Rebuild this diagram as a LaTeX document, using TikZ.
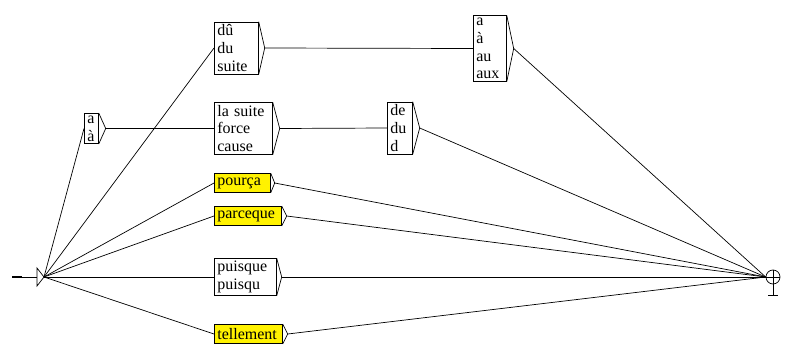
\documentclass[tikz,border=0pt]{standalone}
\usepackage{fontspec}
\setmainfont{Liberation Serif}

\begin{document}
\begin{tikzpicture}[x=1pt, y=-1pt, line width=0.7pt,
    box/.style={draw, anchor=west, align=left, inner xsep=3pt, inner ysep=2.5pt, font=\fontsize{16}{17.8}\selectfont},
    sub/.style={box, fill=yellow, minimum height=19pt}]
    \useasboundingbox (0,0) rectangle (796,356);
    % initial and final states
    \coordinate (start) at (12,277);
    \coordinate (init) at (44,277);
    \draw[line width=1.6pt] (start) -- ++(10,0);
    \draw (start) -- (37,277);
    \draw (37,268) -- (init) -- (37,286) -- cycle;
    \node[draw, circle, minimum size=14pt, inner sep=0pt] (final) at (773,277) {};
    \draw (final.north) -- (final.south) (final.west) -- (final.east);
    \draw (final.south) -- ++(0,11) ++(-5,0) -- ++(10,0);
    % boxes
    \node[box, text width=38pt] (du) at (214,48) {dû\\du\\suite};
    \node[box, text width=27pt] (aaux) at (473,48.5) {a\\à\\au\\aux};
    \node[box, text width=8pt] (aa) at (84,128.5) {a\\à};
    \node[box, text width=52pt] (lasuite) at (214,128.5) {la suite\\force\\cause};
    \node[box, text width=19pt] (de) at (387,128) {de\\du\\d};
    \node[sub, text width=50pt] (pourca) at (214,183) {pourça};
    \node[sub, text width=61pt] (parceque) at (214,216) {parceque};
    \node[box, text width=56pt] (puisque) at (214,277) {puisque\\puisqu};
    \node[sub, text width=62pt] (tellement) at (214,334) {tellement};
    % output triangles
    \foreach \n/\d in {du/6, aaux/7, aa/7, lasuite/7, de/7, pourca/4, parceque/5, puisque/5, tellement/5} {
        \coordinate (\n-out) at ([xshift=\d pt]\n.east);
        \draw (\n.north east) -- (\n-out) -- (\n.south east);
    }
    % transitions
    \foreach \n in {aa, du, pourca, parceque, puisque, tellement}
        \draw (init) -- (\n.west);
    \draw (aa-out) -- (lasuite.west);
    \draw (du-out) -- (aaux.west);
    \draw (lasuite-out) -- (de.west);
    \foreach \n in {aaux, de, pourca, parceque, puisque, tellement}
        \draw (\n-out) -- (final.west);
\end{tikzpicture}
\end{document}
